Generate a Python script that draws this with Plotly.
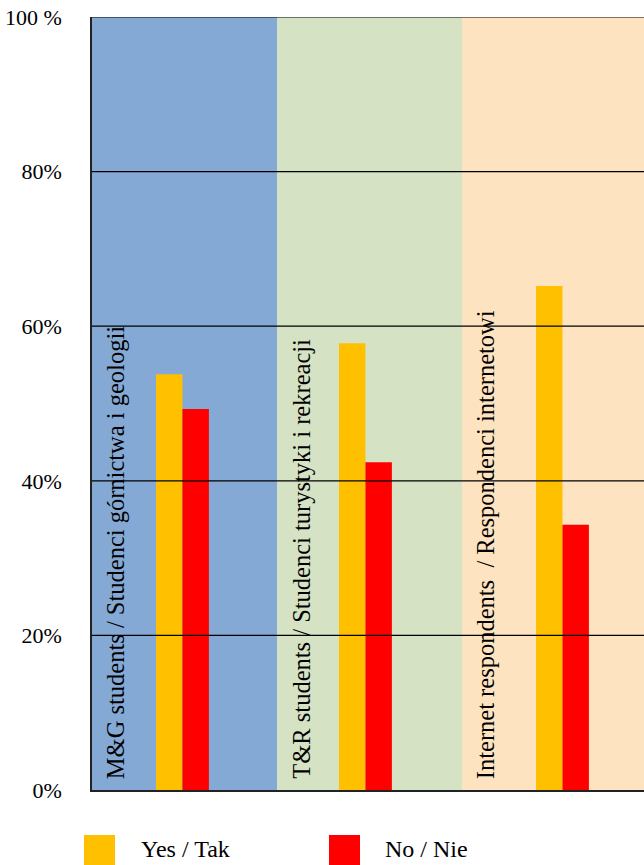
import plotly.graph_objects as go

categories = ["M&G students / Studenci górnictwa i geologii",
              "T&R students / Studenci turystyki i rekreacji",
              "Internet respondents  / Respondenci internetowi"]
series_names = ["Yes / Tak", "No / Nie"]
yes_values = [53.8, 57.8, 65.2]
no_values = [49.3, 42.4, 34.3]
tick_values = [0, 20, 40, 60, 80, 100]
tick_labels = ["0%", "20%", "40%", "60%", "80%", "100 %"]

band_colors = ["#85a9d5", "#d5e2c3", "#fde3bf"]
bar_colors = ["#ffc000", "#ff0000"]
FONT = "Liberation Serif"

W, H = 644, 865
L, R, T, B = 92, 0, 17, 75
plot_w = W - L - R
plot_h = H - T - B

xpos = list(range(len(categories)))
bar_w = 0.143
yes_offsets = [-0.154, -0.165, -0.100]
no_offsets = [o + bar_w for o in yes_offsets]

fig = go.Figure()
fig.add_trace(go.Bar(x=xpos, y=yes_values, name=series_names[0],
                     marker=dict(color=bar_colors[0], line=dict(width=0)),
                     width=[bar_w] * 3, offset=yes_offsets, showlegend=False))
fig.add_trace(go.Bar(x=xpos, y=no_values, name=series_names[1],
                     marker=dict(color=bar_colors[1], line=dict(width=0)),
                     width=[bar_w] * 3, offset=no_offsets, showlegend=False))

shapes = []
for i, c in enumerate(categories):
    shapes.append(dict(type="rect", xref="x", yref="paper", x0=i - 0.5, x1=i + 0.5,
                       y0=0, y1=1, fillcolor=band_colors[i], line=dict(width=0), layer="below"))
for v in tick_values[1:]:
    shapes.append(dict(type="line", xref="paper", yref="y", x0=0, x1=1, y0=v, y1=v,
                       line=dict(color="black", width=1.2), layer="above"))

annotations = []
for i, c in enumerate(categories):
    annotations.append(dict(text=c, xref="x", yref="paper", x=i - 0.5 + 0.128, y=0,
                            yshift=9, xanchor="center", yanchor="bottom", textangle=-90,
                            showarrow=False, font=dict(family=FONT, size=24.5, color="black")))

def px_x(p):
    return (p - L) / plot_w

def px_y(p):
    return (H - B - p) / plot_h

legend_sq = [(84, 115), (329, 360)]
legend_txt = [139, 383]
for k, name in enumerate(series_names):
    shapes.append(dict(type="rect", xref="paper", yref="paper",
                       x0=px_x(legend_sq[k][0]), x1=px_x(legend_sq[k][1]),
                       y0=px_y(835), y1=px_y(868), fillcolor=bar_colors[k],
                       line=dict(width=0)))
    annotations.append(dict(text=name, xref="paper", yref="paper", x=px_x(legend_txt[k]),
                            y=px_y(849), xanchor="left", yanchor="middle", showarrow=False,
                            font=dict(family=FONT, size=24, color="black")))

fig.update_layout(
    width=W, height=H,
    margin=dict(l=L, r=R, t=T, b=B, pad=0),
    paper_bgcolor="white", plot_bgcolor="white",
    barmode="overlay",
    shapes=shapes, annotations=annotations,
    font=dict(family=FONT, size=22, color="black"),
    xaxis=dict(range=[-0.5, -0.5 + plot_w / 185.0], showticklabels=False, showgrid=False,
               zeroline=False, showline=True, linecolor="#222", linewidth=1.5,
               ticks="", layer="above traces", fixedrange=True),
    yaxis=dict(range=[0, 100], tickvals=tick_values, ticktext=tick_labels,
               showgrid=False, zeroline=False, showline=True, linecolor="#222",
               linewidth=1.5, ticks="", ticklabelstandoff=24, layer="above traces",
               tickfont=dict(family=FONT, size=22, color="black"), fixedrange=True),
)

fig.write_html("out.html", config={"displayModeBar": False})
